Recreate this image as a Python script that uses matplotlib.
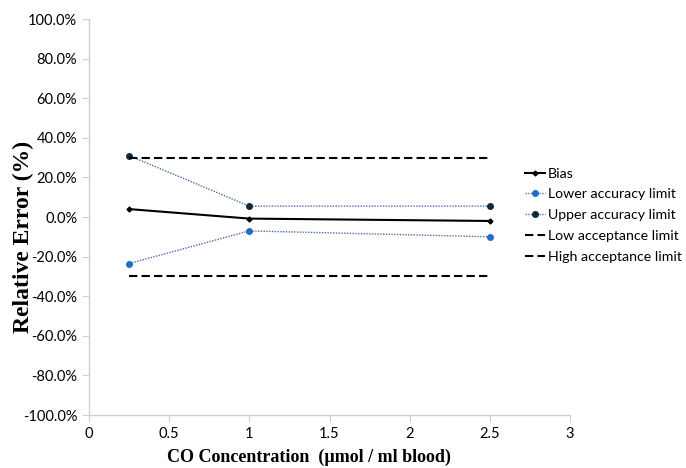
import matplotlib
matplotlib.use("Agg")
import matplotlib.pyplot as plt
from matplotlib.ticker import FuncFormatter

conc = [0.25, 1.0, 2.5]
bias = [4.0, -0.8, -2.0]
lower_acc = [-23.5, -7.0, -10.0]
upper_acc = [31.0, 5.5, 5.5]
low_accept = [-30.0, -30.0, -30.0]
high_accept = [30.0, 30.0, 30.0]

fig = plt.figure(figsize=(6.86, 4.68), dpi=100)
ax = fig.add_axes([0.1297, 0.1132, 0.7014, 0.8462])

ax.plot(conc, bias, color="black", lw=1.5, marker="D", ms=2.5, label="Bias")
ax.plot(conc, lower_acc, color="#4a6fa8", lw=1.0, ls=(0, (1, 1)), marker="o", ms=4,
        mfc="#1f6fc5", mec="#1f6fc5", label="Lower accuracy limit")
ax.plot(conc, upper_acc, color="#4a6fa8", lw=1.0, ls=(0, (1, 1)), marker="o", ms=4,
        mfc="#0d2a3a", mec="#0d2a3a", label="Upper accuracy limit")
ax.plot(conc, low_accept, color="black", lw=1.5, ls=(0, (4, 2)), label="Low acceptance limit")
ax.plot(conc, high_accept, color="black", lw=1.5, ls=(0, (4, 2)), label="High acceptance limit")

ax.set_xlim(0, 3)
ax.set_ylim(-100, 100)
ax.set_xticks([0, 0.5, 1, 1.5, 2, 2.5, 3])
ax.set_xticklabels(["0", "0.5", "1", "1.5", "2", "2.5", "3"])
ax.set_yticks(range(-100, 101, 20))
ax.yaxis.set_major_formatter(FuncFormatter(lambda v, p: f"{v:.1f}%"))

for s in ["top", "right"]:
    ax.spines[s].set_visible(False)
for s in ["left", "bottom"]:
    ax.spines[s].set_color("#d0d0d0")
    ax.spines[s].set_linewidth(1.0)
ax.tick_params(axis="both", colors="#d0d0d0", labelcolor="black", length=5,
               labelsize=10.5)
for lab in ax.get_xticklabels() + ax.get_yticklabels():
    lab.set_family("Lato")

ax.set_xlabel("CO Concentration  (µmol / ml blood)", family="Liberation Serif",
              fontweight="bold", fontsize=13)
ax.xaxis.set_label_coords(0.457, -0.085)
ax.set_ylabel("Relative Error (%)", family="Liberation Serif",
              fontweight="bold", fontsize=17)
ax.yaxis.set_label_coords(-0.115, 0.45)

fig.legend(*ax.get_legend_handles_labels(), loc="upper left",
           bbox_to_anchor=(0.765, 0.642), frameon=False, borderpad=0,
           borderaxespad=0, prop={"family": "Lato", "size": 10.2},
           handlelength=1.45, handletextpad=0.2, labelspacing=0.62)

fig.savefig("out.png", dpi=100)
